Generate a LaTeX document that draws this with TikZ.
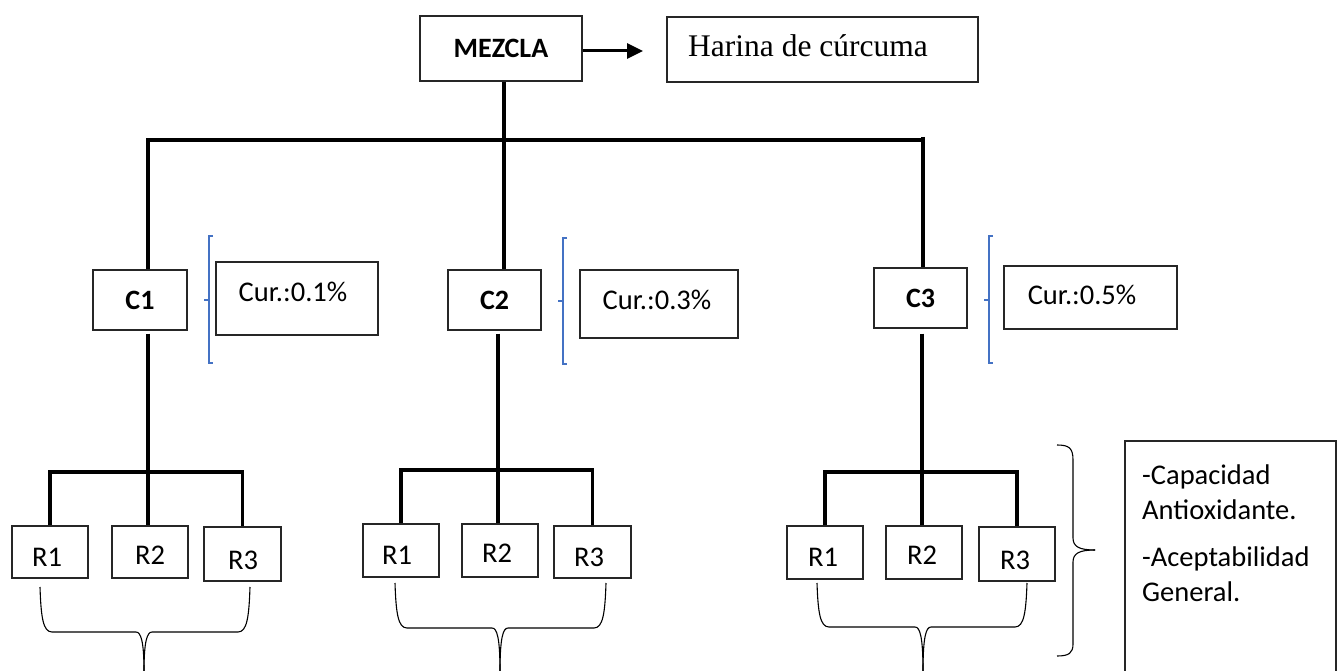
\documentclass[tikz,border=0pt]{standalone}
\usepackage{fontspec}
\setmainfont{Carlito}
\newfontfamily\timesf{Liberation Serif}
\usetikzlibrary{arrows.meta,calc}
\definecolor{bracketblue}{RGB}{68,114,196}
\newcommand{\bluebracket}[4]{%
  \draw[bluebr] (#1+4,#2) -- (#1,#2) -- (#1,#3) -- (#1+4,#3);
  \draw[bluebr] (#1,#4) -- (#1-5,#4);}
\newcommand{\downbrace}[5]{% left x, right x, top y, horizontal y, tip x
  \draw[brace] (#1,#3) .. controls (#1+1,#4-15) and (#1+3,#4) .. (#1+12,#4)
    -- (#5-8,#4) .. controls (#5-3,#4) and (#5,#4+10) .. (#5,671);
  \draw[brace] (#5,671) .. controls (#5,#4+10) and (#5+3,#4) .. (#5+8,#4)
    -- (#2-12,#4) .. controls (#2-3,#4) and (#2-1,#4-15) .. (#2,#3);}
\begin{document}
\begin{tikzpicture}[x=1pt,y=-1pt,
  box/.style={draw=black!85, line width=1.2pt, inner sep=0pt},
  lbl/.style={inner sep=0pt, font=\fontsize{28.5}{34}\selectfont},
  blbl/.style={inner sep=0pt, font=\fontsize{28}{34}\selectfont\bfseries},
  conn/.style={line width=3.8pt},
  bluebr/.style={draw=bracketblue, line width=1.1pt},
  brace/.style={draw=black, line width=1.1pt}]
\useasboundingbox[fill=white] (0,0) rectangle (1341,671);

% top level
\node[box, blbl, minimum width=162pt, minimum height=65pt] (mez) at (501,48.5) {MEZCLA};
\node[box, minimum width=311pt, minimum height=65pt] (har) at (822.5,49.5) {};
\node[inner sep=0pt, anchor=base west, font=\timesf\fontsize{31.5}{36}\selectfont] (hartxt) at (688,57) {Harina de cúrcuma};
\coordinate (arrend) at (643,51);
\draw[line width=3pt, -{Triangle[length=16pt,width=15pt]}] (mez.east |- arrend) -- (arrend);

% second level
\node[box, blbl, minimum width=94pt, minimum height=60pt] (c1) at (140,300) {C1};
\node[box, blbl, minimum width=93pt, minimum height=60pt] (c2) at (494.5,300) {C2};
\node[box, blbl, minimum width=93pt, minimum height=60pt] (c3) at (920.5,298) {C3};

\node[box, minimum width=162pt, minimum height=73pt] (cur1) at (297,298.5) {};
\node[lbl] (cur1t) at (293,292) {Cur.:0.1\%};
\node[box, minimum width=158pt, minimum height=68pt] (cur2) at (659,304) {};
\node[lbl] (cur2t) at (657,300) {Cur.:0.3\%};
\node[box, minimum width=173pt, minimum height=63pt] (cur3) at (1090.5,297.5) {};
\node[lbl] (cur3t) at (1082,295) {Cur.:0.5\%};

\bluebracket{209}{236}{363}{300}
\bluebracket{563}{238}{364}{301}
\bluebracket{989}{236}{363}{300}

% main tree lines
\coordinate (tL) at (148,140);
\coordinate (tM) at (504,140);
\coordinate (tR) at (923,140);
\draw[conn] (tM |- mez.south) -- (tM);
\draw[conn] (tL |- c1.north) -- (tL) -- (tR);
\draw[conn] (tM) -- (tM |- c2.north);
\draw[conn] ([yshift=3pt]tR) -- (tR |- c3.north);

% third level boxes
\node[box, minimum width=76pt, minimum height=52pt] (r11) at (50,552) {};
\node[box, minimum width=76pt, minimum height=52pt] (r12) at (150,552) {};
\node[box, minimum width=77pt, minimum height=54pt] (r13) at (242.5,554) {};
\node[lbl] at (47,557) {R1};
\node[lbl] at (150,555) {R2};
\node[lbl] at (243,560) {R3};

\node[box, minimum width=76pt, minimum height=53pt] (r21) at (401,550.5) {};
\node[box, minimum width=76pt, minimum height=53pt] (r22) at (500,550.5) {};
\node[box, minimum width=77pt, minimum height=52pt] (r23) at (592.5,552) {};
\node[lbl] at (397,555) {R1};
\node[lbl] at (497,553) {R2};
\node[lbl] at (589,557) {R3};

\node[box, minimum width=76pt, minimum height=53pt] (r31) at (825,552.5) {};
\node[box, minimum width=76pt, minimum height=53pt] (r32) at (924,552.5) {};
\node[box, minimum width=76pt, minimum height=54pt] (r33) at (1017,554) {};
\node[lbl] at (823,557) {R1};
\node[lbl] at (922,555) {R2};
\node[lbl] at (1015,560) {R3};

% group connectors
\coordinate (g1) at (148,472);
\coordinate (g2) at (498,470);
\coordinate (g3) at (922,472);
\draw[conn] ($(g1 |- c1.south)+(0,3)$) -- (g1);
\draw[conn] ($(g2 |- c2.south)+(0,3)$) -- (g2);
\draw[conn] ($(g3 |- c3.south)+(0,5)$) -- (g3);
\foreach \g/\a/\b/\c in {g1/r11/r12/r13, g2/r21/r22/r23, g3/r31/r32/r33}{
  \draw[conn] (\a.north) |- (\g) -| (\c.north);
  \draw[conn] (\g) -- (\g |- \b.north);
}

% bottom braces
\downbrace{40}{250}{587}{632}{144}
\downbrace{395}{606}{583}{628}{500}
\downbrace{817}{1027}{583}{627}{923}

% right brace
\draw[brace] (1057,445) .. controls (1069,445) and (1073,448) .. (1073,460)
  -- (1073,538) .. controls (1073,547) and (1080,550) .. (1095,550);
\draw[brace] (1095,550) .. controls (1080,550) and (1073,553) .. (1073,562)
  -- (1073,644) .. controls (1073,653) and (1069,656) .. (1057,656);

% result box
\node[box, minimum width=211pt, minimum height=262pt] (res) at (1230.5,572) {};
\node[lbl, anchor=base west] at (1142,484) {-Capacidad};
\node[lbl, anchor=base west] at (1142,519) {Antioxidante.};
\node[lbl, anchor=base west] at (1142,566) {-Aceptabilidad};
\node[lbl, anchor=base west] at (1142,601) {General.};
\end{tikzpicture}
\end{document}
